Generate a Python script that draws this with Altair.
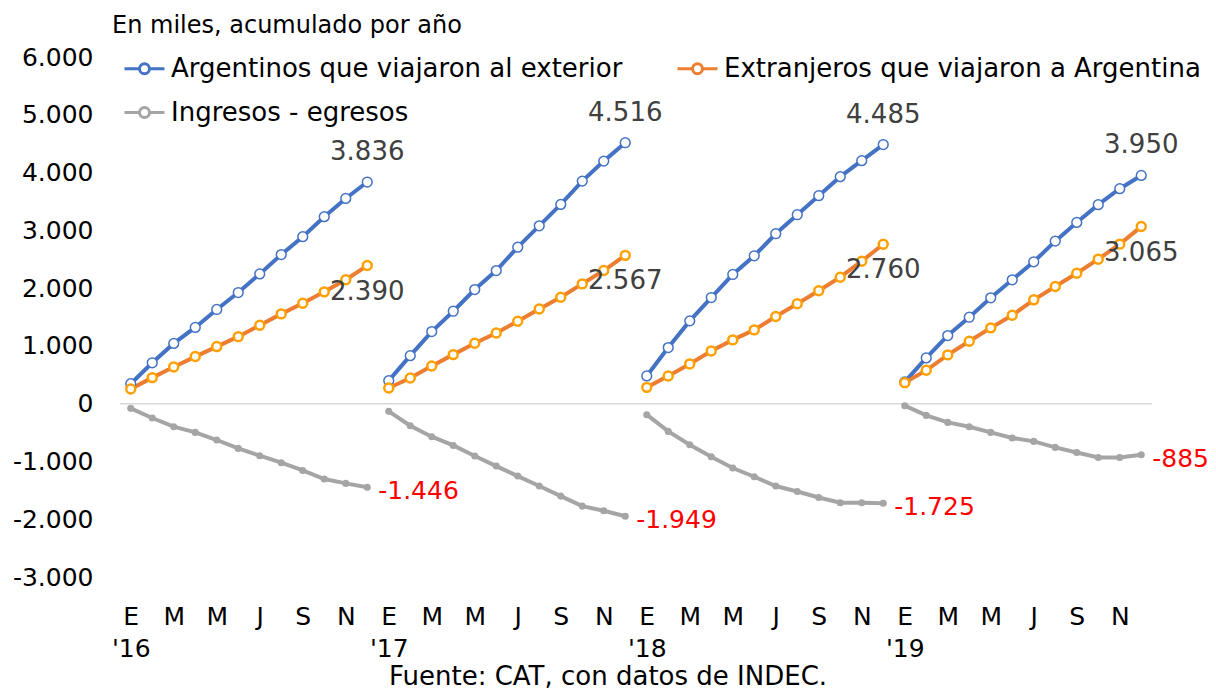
import json
import altair as alt
import pandas as pd

# ---------------- data ----------------
series_names = ["Argentinos que viajaron al exterior",
                "Extranjeros que viajaron a Argentina",
                "Ingresos - egresos"]
years = ["'16", "'17", "'18", "'19"]
month_letters = ["E", "M", "M", "J", "S", "N"]

argentinos = [
    345, 708, 1043, 1319, 1630, 1924, 2245, 2580, 2890, 3236, 3552, 3836,
    398, 831, 1248, 1600, 1975, 2304, 2708, 3078, 3448, 3852, 4198, 4516,
    480, 971, 1433, 1837, 2236, 2560, 2941, 3270, 3600, 3929, 4206, 4485,
    376, 792, 1179, 1496, 1832, 2144, 2456, 2813, 3137, 3444, 3721, 3950]
extranjeros = [
    255, 451, 636, 815, 988, 1160, 1357, 1554, 1738, 1935, 2144, 2390,
    272, 445, 653, 849, 1046, 1224, 1426, 1640, 1842, 2073, 2304, 2567,
    282, 480, 688, 913, 1104, 1277, 1508, 1728, 1953, 2189, 2466, 2760,
    364, 577, 844, 1080, 1312, 1530, 1797, 2028, 2258, 2501, 2761, 3065]
saldo = [
    -81, -248, -398, -497, -629, -774, -901, -1022, -1156, -1304, -1380, -1446,
    -133, -381, -572, -723, -906, -1080, -1253, -1426, -1600, -1773, -1854, -1949,
    -191, -480, -711, -919, -1114, -1265, -1426, -1520, -1624, -1716, -1716, -1725,
    -35, -203, -324, -399, -497, -594, -653, -757, -844, -931, -931, -885]

title_text = "En miles, acumulado por año"
source_text = "Fuente: CAT, con datos de INDEC."

# ---------------- table ----------------
def fmt(v):
    return f"{v:,}".replace(",", ".")

rows = []
for name, vals in zip(series_names, [argentinos, extranjeros, saldo]):
    for i, v in enumerate(vals):
        rows.append({"idx": i, "year": i // 12, "month": i % 12 + 1,
                     "series": name, "value": v, "label": fmt(v)})
df = pd.DataFrame(rows)

FONT = "DejaVu Sans"
BLUE, ORANGE, ORANGE_MK, GRAY = "#4472C4", "#ED7D31", "#FFA000", "#A5A5A5"

# x tick labels (month letters, year under January)
tick_vals = list(range(0, 48, 2))
tick_labels = []
for k, t in enumerate(tick_vals):
    m = month_letters[k % 6]
    tick_labels.append([m, years[t // 12]] if k % 6 == 0 else m)
label_expr = json.dumps(tick_labels) + "[datum.value / 2]"

xscale = alt.Scale(domain=[-0.5, 47.5], nice=False, zero=False)
yscale = alt.Scale(domain=[-3000, 6000], nice=False, zero=False)

x_enc = alt.X("idx:Q", scale=xscale,
              axis=alt.Axis(values=tick_vals, labelExpr=label_expr, title=None,
                            grid=False, domain=False, ticks=False,
                            labelFontSize=25, labelFont=FONT, labelColor="black",
                            labelPadding=27, labelLineHeight=32,
                            labelBaseline="top", labelFlush=False, labelOverlap=False))
y_enc = alt.Y("value:Q", scale=yscale,
              axis=alt.Axis(values=list(range(-3000, 6001, 1000)),
                            labelExpr="(datum.value < 0 ? '-' : '') + replace(format(abs(datum.value), ','), ',', '.')",
                            title=None, grid=False, domain=False, ticks=False,
                            labelFontSize=25, labelFont=FONT, labelColor="black",
                            labelPadding=27))

base = alt.Chart(df)

# zero line
zero_df = pd.DataFrame({"x": [-0.5], "x2": [47.5], "y": [0]})
zero_line = alt.Chart(zero_df).mark_rule(color="#D9D9D9", strokeWidth=1.5).encode(
    x=alt.X("x:Q", scale=xscale), x2="x2:Q", y=alt.Y("y:Q", scale=yscale))

legend_path = ("M-1,0H-0.25 M0.25,0H1 "
               "M0.25,0A0.25,0.25,0,1,1,-0.25,0A0.25,0.25,0,1,1,0.25,0Z")

lines = base.mark_line(strokeWidth=4).encode(
    x=x_enc, y=y_enc,
    color=alt.Color("series:N",
                    scale=alt.Scale(domain=series_names, range=[BLUE, ORANGE, GRAY]),
                    legend=alt.Legend(title=None, orient="none", legendX=3, legendY=-10,
                                      direction="horizontal", columns=2,
                                      columnPadding=48, rowPadding=9,
                                      symbolType=legend_path, symbolSize=1600,
                                      symbolStrokeWidth=3, symbolFillColor="white",
                                      labelFontSize=26, labelFont=FONT, labelColor="black",
                                      labelOffset=5, labelLimit=0)),
    detail="year:N", order="idx:Q")

pts_blue = base.transform_filter(alt.datum.series == series_names[0]).mark_point(
    shape="circle", filled=True, fill="white", stroke=BLUE, strokeWidth=1.5,
    size=95, opacity=1).encode(x="idx:Q", y="value:Q")
pts_orange = base.transform_filter(alt.datum.series == series_names[1]).mark_point(
    shape="circle", filled=True, fill="white", stroke=ORANGE_MK, strokeWidth=2.5,
    size=80, opacity=1).encode(x="idx:Q", y="value:Q")
pts_gray = base.transform_filter(alt.datum.series == series_names[2]).mark_point(
    shape="circle", filled=True, fill=GRAY, size=50, opacity=1).encode(
    x="idx:Q", y="value:Q")

last = base.transform_filter(alt.datum.month == 12)
lab_blue = last.transform_filter(alt.datum.series == series_names[0]).mark_text(
    font=FONT, fontSize=26, color="#404040", dy=-30, align="center").encode(
    x="idx:Q", y="value:Q", text="label:N")
lab_orange = last.transform_filter(alt.datum.series == series_names[1]).mark_text(
    font=FONT, fontSize=26, color="#404040", dy=26, align="center").encode(
    x="idx:Q", y="value:Q", text="label:N")
lab_gray = last.transform_filter(alt.datum.series == series_names[2]).mark_text(
    font=FONT, fontSize=25, color="#FF0000", dx=11, dy=4, align="left").encode(
    x="idx:Q", y="value:Q", text="label:N")

title_mark = alt.Chart(pd.DataFrame({"t": [title_text]})).mark_text(
    font=FONT, fontSize=24, color="black", align="left", baseline="alphabetic").encode(
    x=alt.value(-8), y=alt.value(-24), text="t:N")
source_mark = alt.Chart(pd.DataFrame({"t": [source_text]})).mark_text(
    font=FONT, fontSize=26, color="black", align="center", baseline="alphabetic").encode(
    x=alt.value(488), y=alt.value(628), text="t:N")

chart = alt.layer(zero_line, lines, pts_blue, pts_orange, pts_gray,
                  lab_blue, lab_orange, lab_gray, title_mark, source_mark).properties(
    width=1032, height=520,
    autosize=alt.AutoSizeParams(type="none"),
    padding={"left": 112, "top": 49, "right": 56, "bottom": 113},
).configure_view(stroke=None)

chart.save("out.html", embed_options={"renderer": "svg", "actions": False})
